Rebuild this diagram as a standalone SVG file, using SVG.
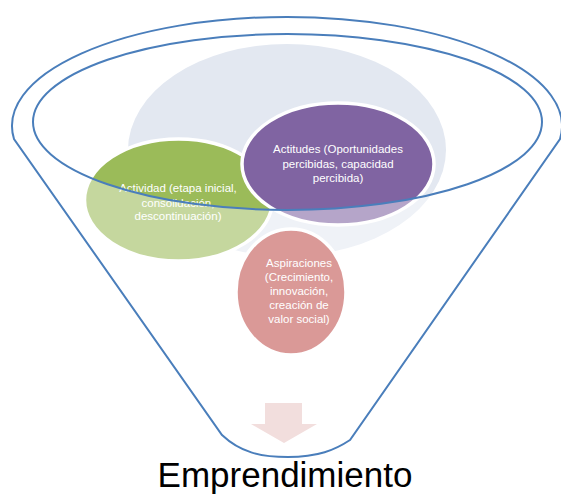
<svg xmlns="http://www.w3.org/2000/svg" width="561" height="494" viewBox="0 0 561 494">
  <style>
    .lbl { font-family: "Liberation Sans", Arial, sans-serif; font-size: 11.5px; fill: #ffffff; text-anchor: middle; }
    .circ { stroke: #ffffff; stroke-width: 3.5; }
    .outline { fill: none; stroke: #4a7ebb; stroke-width: 2; }
  </style>
  <rect width="561" height="494" fill="#ffffff"/>
  <g id="background-blob">
    <ellipse cx="287" cy="150" rx="159" ry="106" fill="#e3e8f1"/>
  </g>
  <g id="node-actividad">
    <ellipse class="circ" cx="178.5" cy="200" rx="94" ry="61" fill="#9bbb59"/>
    <text class="lbl" x="178" y="192">Actividad (etapa inicial,</text>
    <text class="lbl" x="178" y="206.5">consolidación,</text>
    <text class="lbl" x="178" y="220">descontinuación)</text>
  </g>
  <g id="node-actitudes">
    <ellipse class="circ" cx="338" cy="164" rx="96" ry="61" fill="#8064a2"/>
    <text class="lbl" x="338" y="153">Actitudes (Oportunidades</text>
    <text class="lbl" x="338" y="168">percibidas, capacidad</text>
    <text class="lbl" x="338" y="182">percibida)</text>
  </g>
  <g id="node-aspiraciones">
    <ellipse class="circ" cx="291" cy="292" rx="55" ry="63" fill="#c0504d"/>
    <text class="lbl" x="299" y="267">Aspiraciones</text>
    <text class="lbl" x="299" y="281">(Crecimiento,</text>
    <text class="lbl" x="299" y="295">innovación,</text>
    <text class="lbl" x="299" y="309">creación de</text>
    <text class="lbl" x="299" y="323">valor social)</text>
  </g>
  <g id="funnel">
    <path fill="#ffffff" fill-opacity="0.42" fill-rule="evenodd" d="M 14 139 A 275 109 0 1 1 560 139 L 350 440 C 335 450 318 457 288 457 C 260 457 240 452 222 435 Z M 33 122 A 254.5 88 0 1 0 542 122 A 254.5 88 0 1 0 33 122 Z"/>
    <path class="outline" d="M 14 139 A 275 109 0 1 1 560 139 L 350 440 C 335 450 318 457 288 457 C 260 457 240 452 222 435 Z"/>
    <ellipse class="outline" cx="287.5" cy="122" rx="254.5" ry="88"/>
  </g>
  <g id="arrow">
    <polygon points="265,403 302,403 302,424 317,424 284,443 251,424 265,424" fill="#f2dedd"/>
  </g>
  <g id="label">
    <text x="285" y="487" font-family="'Liberation Sans', Arial, sans-serif" font-size="35" fill="#000000" text-anchor="middle">Emprendimiento</text>
  </g>
</svg>
